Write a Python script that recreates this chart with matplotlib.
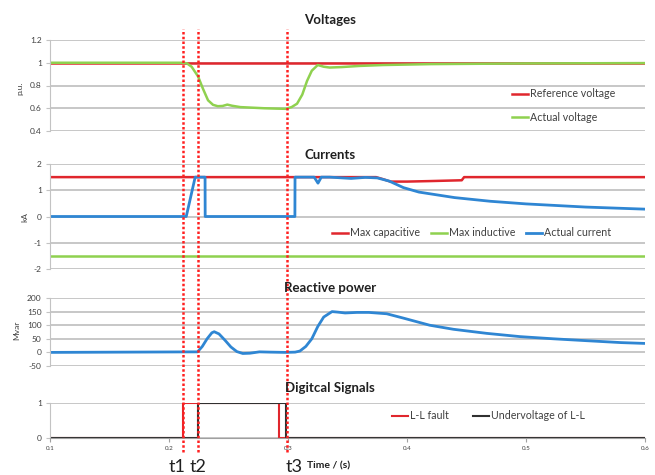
import matplotlib.pyplot as plt
import matplotlib.transforms as mtransforms

plt.rcParams['font.family'] = ['Lato', 'DejaVu Sans']

# --- data -----------------------------------------------------------------
t_ref = [0.1, 0.6]
v_ref = [1.0, 1.0]

t_volt = [0.1, 0.212, 0.215, 0.219, 0.2244, 0.2286, 0.2328, 0.237, 0.241, 0.245,
          0.249, 0.253, 0.26, 0.27, 0.28, 0.29, 0.298, 0.303, 0.3076, 0.312,
          0.316, 0.32, 0.325, 0.33, 0.335, 0.345, 0.36, 0.38, 0.42, 0.5, 0.6]
v_volt = [1.0, 1.0, 0.995, 0.965, 0.88, 0.77, 0.67, 0.63, 0.618, 0.62,
          0.632, 0.622, 0.61, 0.605, 0.6, 0.597, 0.595, 0.61, 0.64, 0.72,
          0.84, 0.93, 0.98, 0.965, 0.958, 0.962, 0.972, 0.98, 0.988, 0.994, 0.997]

t_cap = [0.1, 0.374, 0.38, 0.386, 0.40, 0.42, 0.446, 0.448, 0.6]
i_cap = [1.5, 1.5, 1.42, 1.33, 1.33, 1.35, 1.38, 1.5, 1.5]

t_ind = [0.1, 0.6]
i_ind = [-1.5, -1.5]

t_cur = [0.1, 0.2145, 0.216, 0.2175, 0.219, 0.2205, 0.222, 0.2303, 0.2304,
         0.3058, 0.3059, 0.322, 0.3252, 0.328, 0.335, 0.353, 0.365, 0.375,
         0.385, 0.397, 0.41, 0.44, 0.47, 0.5, 0.55, 0.6]
i_cur = [0.0, 0.0, 0.3, 0.6, 0.9, 1.2, 1.5, 1.5, 0.0,
         0.0, 1.5, 1.5, 1.27, 1.5, 1.5, 1.45, 1.49, 1.47,
         1.35, 1.1, 0.93, 0.72, 0.58, 0.48, 0.36, 0.28]

t_q = [0.1, 0.224, 0.228, 0.232, 0.236, 0.238, 0.242, 0.247, 0.252, 0.257,
       0.262, 0.268, 0.276, 0.285, 0.298, 0.306, 0.31, 0.315, 0.32, 0.325,
       0.33, 0.337, 0.342, 0.348, 0.358, 0.368, 0.383, 0.397, 0.419, 0.439,
       0.467, 0.495, 0.523, 0.551, 0.58, 0.6]
q_mvar = [0, 2, 22, 50, 72, 76, 68, 45, 20, 3,
          -4, -3, 2, 1, 0, 1, 5, 22, 50, 95,
          130, 150, 148, 145, 147, 147, 142, 126, 100, 85,
          70, 58, 50, 43, 36, 33]

t_fault = [0.1, 0.2118, 0.2118, 0.2925, 0.2925, 0.6]
s_fault = [0, 0, 1, 1, 0, 0]
t_uv = [0.1, 0.2244, 0.2244, 0.2985, 0.2985, 0.6]
s_uv = [0, 0, 1, 1, 0, 0]

event_times = [0.2118, 0.2244, 0.2992]
event_labels = ['t1', 't2', 't3']
event_label_x = [0.2070, 0.2244, 0.3055]

x_ticks = [0.1, 0.2, 0.3, 0.4, 0.5, 0.6]

RED = '#e0262d'
GREEN = '#8fd14f'
BLUE = '#2f86d3'
BLACK = '#303030'
GRID = '#c3c3c3'
TXT = '#404040'

W, H = 655, 475
fig = plt.figure(figsize=(W / 100, H / 100), dpi=100)


def px_axes(left, top, right, bottom):
    return fig.add_axes([left / W, 1 - bottom / H, (right - left) / W, (bottom - top) / H])


def style(ax, ylim, yticks, ylabels, bottom=False):
    ax.set_xlim(0.1, 0.6)
    ax.set_ylim(*ylim)
    ax.set_yticks(yticks)
    ax.set_yticklabels(ylabels)
    ax.yaxis.grid(True, color=GRID, lw=1.3)
    ax.set_axisbelow(True)
    for s in ['top', 'right']:
        ax.spines[s].set_visible(False)
    ax.spines['left'].set_color(GRID)
    ax.tick_params(axis='y', length=3, color=GRID, labelsize=6, labelcolor=TXT, pad=3)
    if bottom:
        ax.spines['bottom'].set_color('#a0a0a0')
        ax.set_xticks(x_ticks)
        ax.set_xticklabels([str(x) for x in x_ticks])
        ax.tick_params(axis='x', length=3, color='#a0a0a0', labelsize=4.5,
                       labelcolor=TXT, pad=3)
    else:
        ax.spines['bottom'].set_visible(False)
        ax.set_xticks([])


leg_kw = dict(frameon=False, fontsize=7.7, labelcolor=TXT, handlelength=1.5,
              handletextpad=0.2, borderpad=0, borderaxespad=0)

# Voltages
ax1 = px_axes(50, 40, 645, 131)
ax1.plot(t_ref, v_ref, color=RED, lw=1.8, label='Reference voltage')
ax1.plot(t_volt, v_volt, color=GREEN, lw=1.8, label='Actual voltage')
style(ax1, (0.4, 1.2), [0.4, 0.6, 0.8, 1.0, 1.2], ['0.4', '0.6', '0.8', '1', '1.2'])
ax1.legend(loc='center left', bbox_to_anchor=(0.777, 0.28), labelspacing=1.15, **leg_kw)

# Currents
ax2 = px_axes(50, 164, 645, 269)
ax2.plot(t_cap, i_cap, color=RED, lw=1.8, label='Max capacitive')
ax2.plot(t_ind, i_ind, color=GREEN, lw=1.8, label='Max inductive')
ax2.plot(t_cur, i_cur, color=BLUE, lw=2.0, label='Actual current')
style(ax2, (-2, 2), [-2, -1, 0, 1, 2], ['-2', '-1', '0', '1', '2'])
ax2.legend(loc='center left', bbox_to_anchor=(0.474, 0.343), ncol=3,
           columnspacing=1.0, **leg_kw)

# Reactive power
ax3 = px_axes(50, 298, 645, 366)
ax3.plot(t_q, q_mvar, color=BLUE, lw=2.0)
style(ax3, (-50, 200), [-50, 0, 50, 100, 150, 200],
      ['-50', '0', '50', '100', '150', '200'])

# Digital signals
ax4 = px_axes(50, 403, 645, 438)
ax4.plot(t_fault, s_fault, color=RED, lw=1.5, label='L-L fault')
ax4.plot(t_uv, s_uv, color=BLACK, lw=1.5, label='Undervoltage of L-L')
style(ax4, (0, 1), [0, 1], ['0', '1'], bottom=True)
ax4.legend(loc='center left', bbox_to_anchor=(0.575, 0.63), ncol=2,
           columnspacing=2.2, **leg_kw)

# panel titles
for title, y in [('Voltages', 20), ('Currents', 155), ('Reactive power', 288),
                 ('Digitcal Signals', 388)]:
    fig.text(330 / W, 1 - y / H, title, ha='center', va='center',
             fontsize=9.5, fontweight='bold', color='#202020')

# y-axis labels
for lab, x, y in [('p.u.', 20, 88), ('kA', 25, 217), ('Mvar', 17, 330)]:
    fig.text(x / W, 1 - y / H, lab, rotation=90, ha='center', va='center',
             fontsize=6, color=TXT)

# event markers across all panels
trans = mtransforms.blended_transform_factory(ax4.transData, fig.transFigure)
for t in event_times:
    ax4.plot([t, t], [1 - 452 / H, 1 - 29 / H], transform=trans, clip_on=False,
             color='#ff2020', lw=1.8, ls=(0, (1, 0.9)), zorder=10)
for x, lab in zip(event_label_x, event_labels):
    ax4.text(x, 1 - 467 / H, lab, transform=trans, ha='center', va='center',
             fontsize=13, color='#202020')

fig.text(307 / W, 1 - 466 / H, 'Time / (s)', ha='left', va='center',
         fontsize=7.5, fontweight='bold', color='#202020')

fig.savefig('out.png', dpi=100)
